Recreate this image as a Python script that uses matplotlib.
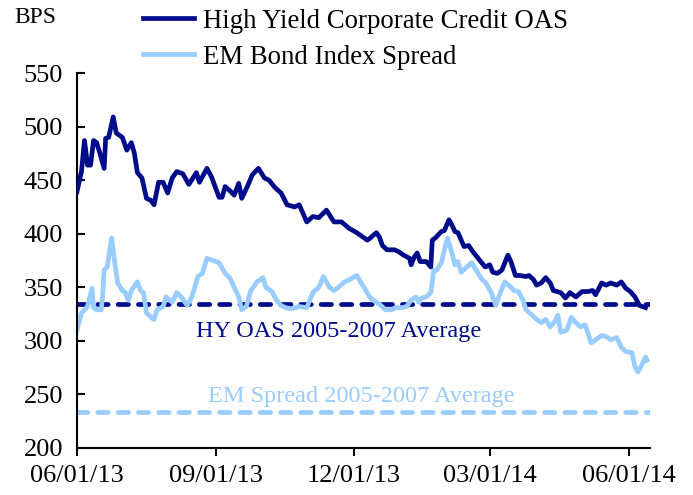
import matplotlib
matplotlib.use('Agg')
import matplotlib.pyplot as plt
import matplotlib.dates as mdates
import pandas as pd

plt.rcParams['font.family'] = ['Liberation Serif', 'DejaVu Serif']

start = pd.Timestamp('2013-06-01')

# days since 06/01/13 and spread (bps)
hy_day = [0, 3, 5, 7, 9, 11, 13, 15, 18, 19, 21, 24, 26, 30, 33, 36, 38, 40, 43, 46,
          49, 51, 54, 57, 60, 63, 66, 70, 74, 79, 81, 86, 89, 94, 96, 98, 102, 104, 107, 109,
          113, 116, 120, 124, 127, 131, 135, 139, 144, 147, 152, 156, 160, 165, 170, 175, 180, 185, 189, 192,
          194, 198, 200, 202, 205, 210, 213, 216, 220, 221, 223, 225, 227, 231, 234, 235, 237, 241, 243, 246,
          248, 250, 252, 256, 259, 262, 267, 270, 273, 275, 278, 281, 285, 287, 290, 293, 297, 299, 302, 304,
          307, 310, 313, 315, 320, 323, 326, 330, 334, 338, 341, 343, 347, 350, 353, 357, 360, 363, 366, 369,
          372, 374, 376]
hy_oas = [439, 458, 487, 464, 464, 487, 485, 476, 461, 489, 490, 509, 494, 490, 478, 485, 475, 457, 452, 433,
          431, 427, 448, 448, 438, 452, 458, 456, 446, 457, 448, 461, 453, 434, 434, 444, 439, 436, 447, 433,
          445, 455, 461, 452, 450, 443, 438, 427, 425, 427, 411, 416, 415, 422, 411, 411, 405, 401, 397, 394,
          396, 401, 397, 389, 385, 385, 383, 380, 377, 371, 378, 382, 374, 374, 369, 394, 396, 402, 403, 413,
          408, 402, 401, 388, 389, 383, 374, 369, 371, 364, 363, 366, 380, 374, 361, 361, 360, 361, 357, 352,
          354, 359, 354, 347, 345, 340, 345, 341, 346, 346, 347, 343, 354, 352, 354, 352, 355, 349, 346, 341,
          333, 332, 331]

em_day = [0, 3, 5, 7, 10, 11, 13, 16, 17, 18, 20, 23, 25, 27, 30, 32, 34, 36, 40, 42,
          44, 46, 49, 51, 53, 57, 59, 63, 66, 69, 73, 76, 80, 83, 86, 90, 94, 98, 101, 104,
          107, 109, 112, 115, 119, 123, 125, 129, 132, 135, 138, 142, 147, 152, 156, 160, 163, 167, 170, 173,
          177, 180, 185, 188, 191, 194, 198, 201, 204, 208, 211, 215, 218, 221, 224, 226, 228, 231, 234, 236,
          238, 241, 243, 245, 248, 250, 252, 254, 258, 261, 264, 268, 270, 272, 274, 277, 280, 283, 287, 289,
          292, 295, 297, 301, 304, 307, 310, 313, 316, 318, 320, 324, 327, 330, 333, 336, 338, 340, 343, 347,
          350, 353, 357, 360, 363, 367, 369, 371, 373, 376, 377]
em_spread = [310, 326, 329, 332, 349, 331, 329, 329, 341, 366, 369, 396, 373, 354, 347, 345, 338, 347, 355, 347,
             345, 326, 322, 320, 329, 332, 341, 336, 345, 341, 333, 341, 360, 363, 377, 375, 373, 363, 359, 350,
             341, 329, 332, 347, 355, 359, 350, 346, 338, 333, 331, 330, 332, 331, 345, 350, 360, 350, 347, 350,
             355, 357, 361, 354, 347, 340, 336, 333, 329, 329, 331, 331, 332, 338, 341, 336, 340, 341, 345, 366,
             366, 373, 385, 396, 382, 371, 374, 364, 369, 373, 366, 357, 355, 350, 345, 333, 345, 355, 350, 347,
             346, 338, 329, 324, 320, 317, 320, 313, 318, 324, 308, 310, 322, 317, 313, 315, 307, 298, 301, 305,
             304, 301, 303, 294, 290, 289, 276, 271, 276, 285, 282]

hy_avg = 334
em_avg = 234

dark = '#000C8A'
light = '#99CCFF'

hy_dates = start + pd.to_timedelta(hy_day, unit='D')
em_dates = start + pd.to_timedelta(em_day, unit='D')

fig = plt.figure(figsize=(6.93, 4.95), dpi=100)
ax = fig.add_axes([0.111, 0.095, 0.827, 0.7575])

ax.plot(hy_dates, hy_oas, color=dark, lw=3.4, label='High Yield Corporate Credit OAS',
        solid_joinstyle='round', zorder=3)
ax.plot(em_dates, em_spread, color=light, lw=3.4, label='EM Bond Index Spread',
        solid_joinstyle='round', zorder=2)

x0, x1 = pd.Timestamp('2013-06-01'), pd.Timestamp('2014-06-15')
ax.plot([x0, x1], [hy_avg, hy_avg], color=dark, lw=3.4, ls=(0, (2.2, 2.1)),
        dash_capstyle='round', zorder=1)
ax.plot([x0, x1], [em_avg, em_avg], color=light, lw=3.4, ls=(0, (2.2, 2.1)),
        dash_capstyle='round', zorder=1)

ax.text(pd.Timestamp('2013-11-21'), 309, 'HY OAS 2005-2007 Average', color=dark,
        fontsize=17.5, ha='center', va='center')
ax.text(pd.Timestamp('2013-12-06'), 248, 'EM Spread 2005-2007 Average', color=light,
        fontsize=17.5, ha='center', va='center')

ax.set_xlim(x0, x1)
ax.set_ylim(200, 550)
ax.set_yticks(range(200, 551, 50))
ax.xaxis.set_major_locator(mdates.MonthLocator(bymonth=[3, 6, 9, 12], bymonthday=1))
ax.xaxis.set_major_formatter(mdates.DateFormatter('%m/%d/%y'))

ax.spines['top'].set_visible(False)
ax.spines['right'].set_visible(False)
for s in ['left', 'bottom']:
    ax.spines[s].set_linewidth(1.5)
ax.tick_params(axis='y', direction='in', length=6, width=1.5, labelsize=19, pad=10)
ax.tick_params(axis='x', direction='out', length=6, width=1.5, labelsize=19, pad=6)

fig.text(0.02, 0.965, 'BPS', fontsize=17, ha='left', va='center')
fig.legend(loc='upper left', bbox_to_anchor=(0.179, 1.02), frameon=False, fontsize=19.3,
           handlelength=1.9, handletextpad=0.35, labelspacing=0.4, borderpad=0.2)

fig.savefig('out.png', dpi=100)
